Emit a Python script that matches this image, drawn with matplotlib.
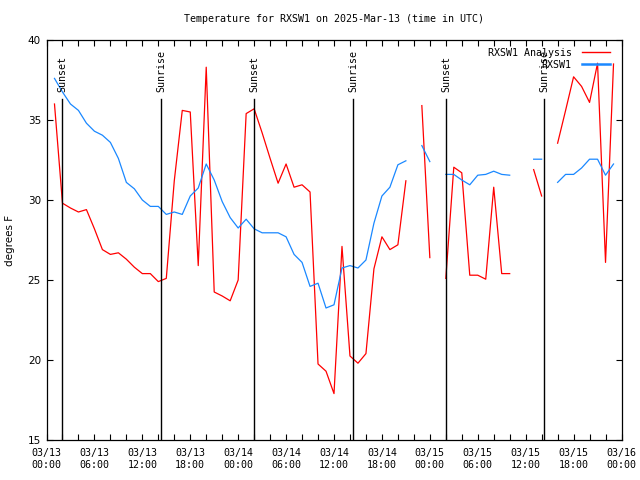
import numpy as np
import matplotlib
matplotlib.use("Agg")
import matplotlib.pyplot as plt

nan = np.nan

# hours after 2025-03-13 00:00 UTC
hours = list(range(1, 72))

analysis = [36.0, 29.8, 29.5, 29.25, 29.4, 28.2, 26.9, 26.6, 26.7, 26.3,
            25.8, 25.4, 25.4, 24.9, 25.1, 31.2, 35.6, 35.5, 25.9, 38.3,
            24.25, 24.0, 23.7, 25.0, 35.4, 35.7, 34.2, 32.6, 31.05, 32.25,
            30.8, 30.95, 30.5, 19.75, 19.3, 17.9, 27.1, 20.25, 19.8, 20.4,
            25.7, 27.7, 26.9, 27.2, 31.2, nan, 35.9, 26.4, nan, 25.1,
            32.05, 31.7, 25.3, 25.3, 25.05, 30.8, 25.4, 25.4, nan, nan,
            31.9, 30.25, nan, 33.55, 35.6, 37.7, 37.1, 36.1, 38.55, 26.1,
            38.5]

observed = [37.6, 36.75, 36.0, 35.6, 34.8, 34.3, 34.05, 33.6, 32.6, 31.1,
            30.7, 30.0, 29.6, 29.6, 29.1, 29.25, 29.1, 30.25, 30.75, 32.25,
            31.25, 29.9, 28.9, 28.25, 28.8, 28.2, 27.95, 27.95, 27.95, 27.7,
            26.6, 26.1, 24.6, 24.8, 23.25, 23.45, 25.75, 25.9, 25.75, 26.25,
            28.55, 30.25, 30.8, 32.2, 32.45, nan, 33.4, 32.4, nan, 31.6,
            31.6, 31.25, 30.95, 31.55, 31.6, 31.8, 31.6, 31.55, nan, nan,
            32.55, 32.55, nan, 31.1, 31.6, 31.6, 32.0, 32.55, 32.55, 31.55,
            32.25]

sun_hours = [1.98, 14.37, 26.0, 38.42, 50.03, 62.33]
sun_labels = ["Sunset", "Sunrise", "Sunset", "Sunrise", "Sunset", "Sunrise"]

tick_hours = [0, 6, 12, 18, 24, 30, 36, 42, 48, 54, 60, 66, 72]
tick_labels = ["03/13\n00:00", "03/13\n06:00", "03/13\n12:00", "03/13\n18:00",
               "03/14\n00:00", "03/14\n06:00", "03/14\n12:00", "03/14\n18:00",
               "03/15\n00:00", "03/15\n06:00", "03/15\n12:00", "03/15\n18:00",
               "03/16\n00:00"]

mono = "DejaVu Sans Mono"
fig = plt.figure(figsize=(6.4, 4.8), dpi=100)
ax = fig.add_axes([46.5 / 640, 40 / 480, 575 / 640, 400 / 480])

ax.plot(hours, analysis, color="#ff0000", lw=0.9, label="RXSW1 Analysis")
ax.plot(hours, observed, color="#1a88ff", lw=0.9, label="RXSW1")

for h, lab in zip(sun_hours, sun_labels):
    ax.axvline(h, ymin=0, ymax=0.8525, color="black", lw=1.0)
    ax.text(h, 0.87, lab, transform=ax.get_xaxis_transform(), rotation=90,
            ha="center", va="bottom", family=mono, fontsize=7.2)

ax.set_xlim(0, 72)
ax.set_ylim(15, 40)
ax.set_xticks(tick_hours)
ax.set_xticklabels(tick_labels, family=mono, fontsize=7.2, linespacing=1.15)
ax.set_xticks(range(0, 73, 2), minor=True)
ax.set_yticks([15, 20, 25, 30, 35, 40])
ax.tick_params(axis="both", which="both", direction="in", top=True, right=True,
               length=4, width=0.8, color="black")
ax.tick_params(axis="x", pad=6)
ax.tick_params(axis="y", labelsize=7.5, pad=4)
for s in ax.spines.values():
    s.set_linewidth(0.9)

ax.set_ylabel("degrees F", fontsize=7.5)
ax.yaxis.set_label_coords(-0.055, 0.5)
fig.text(334 / 640, 0.96, "Temperature for RXSW1 on 2025-Mar-13 (time in UTC)",
         ha="center", va="center", family=mono, fontsize=7.2)

leg = ax.legend(loc="upper right", bbox_to_anchor=(0.99, 0.995), frameon=False,
                markerfirst=False, prop={"family": mono, "size": 7.2},
                handlelength=2.8, handletextpad=1.0, labelspacing=0.2,
                borderaxespad=0.2)
leg.get_lines()[1].set_linewidth(1.8)
leg.get_lines()[0].set_linewidth(1.0)

fig.savefig("out.png", dpi=100)
